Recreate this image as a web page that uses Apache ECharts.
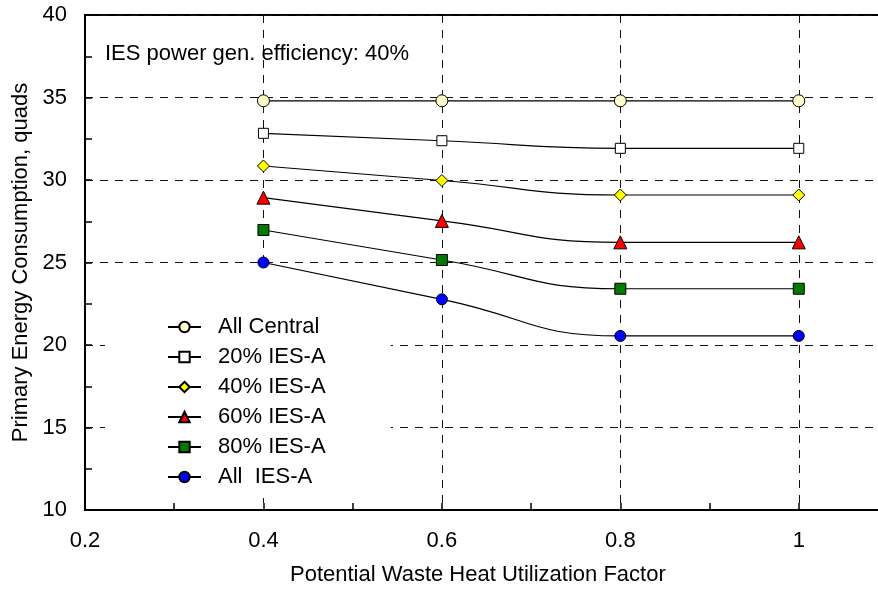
<!DOCTYPE html>
<html>
<head>
<meta charset="utf-8">
<script src="https://cdn.jsdelivr.net/npm/echarts@6/dist/echarts.min.js"></script>
<style>
  html, body { margin: 0; padding: 0; background: #fff; }
  #chart { width: 878px; height: 592px; }
</style>
</head>
<body>
<div id="chart"></div>
<script>
  // x positions (waste heat utilization factor)
  var factors = [0.4, 0.6, 0.8, 1.0];
  // primary energy consumption, quads
  var allCentral = [34.8, 34.8, 34.8, 34.8];
  var ies20 = [32.83, 32.38, 31.92, 31.92];
  var ies40 = [30.85, 29.97, 29.09, 29.09];
  var ies60 = [28.93, 27.52, 26.22, 26.22];
  var ies80 = [26.97, 25.15, 23.41, 23.41];
  var iesAll = [25.0, 22.77, 20.55, 20.55];

  var seriesNames = ['All Central', '20% IES-A', '40% IES-A', '60% IES-A', '80% IES-A', 'All  IES-A'];
  var seriesData = [allCentral, ies20, ies40, ies60, ies80, iesAll];
  var symbols = ['circle', 'rect', 'diamond', 'triangle', 'rect', 'circle'];
  var symbolSizes = [12, 10, 12, 13, 11, 11];
  var fills = ['#ffffcc', '#ffffff', '#ffff00', '#ff0000', '#007a00', '#0000ff'];

  var font = 'Liberation Sans, Arial, sans-serif';
  var chart = echarts.init(document.getElementById('chart'));

  function pairs(ys) {
    var out = [];
    for (var i = 0; i < factors.length; i++) out.push([factors[i], ys[i]]);
    return out;
  }

  var series = [];
  for (var i = 0; i < seriesNames.length; i++) {
    series.push({
      name: seriesNames[i],
      type: 'line',
      smooth: 0.5,
      data: pairs(seriesData[i]),
      symbol: symbols[i],
      symbolSize: symbolSizes[i],
      showAllSymbol: true,
      lineStyle: { color: '#000', width: 1.2 },
      itemStyle: { color: fills[i], borderColor: '#000', borderWidth: 1, opacity: 1 },
      emphasis: { disabled: true },
      z: 3
    });
  }

  var splitStyle = { show: true, lineStyle: { color: '#111', width: 1, type: [8, 7] } };

  var option = {
    animation: false,
    backgroundColor: '#fff',
    textStyle: { fontFamily: font },
    title: {
      text: 'IES power gen. efficiency: 40%',
      left: 100,
      top: 38,
      textStyle: { fontFamily: font, fontSize: 22, fontWeight: 'normal', color: '#000' }
    },
    grid: {
      left: 85, width: 803, top: 15, bottom: 82,
      outerBoundsMode: 'none',
      containLabel: false,
      show: true, borderColor: '#000', borderWidth: 2, backgroundColor: 'transparent'
    },
    legend: {
      orient: 'vertical',
      left: 105,
      top: 267,
      z: 1,
      padding: [49, 65, 10, 62],
      backgroundColor: '#fff',
      itemWidth: 33,
      itemHeight: 13,
      itemGap: 8,
      selectedMode: false,
      data: seriesNames,
      textStyle: { fontFamily: font, fontSize: 22, color: '#000', lineHeight: 22, padding: [0, 0, 0, 12] }
    },
    xAxis: {
      type: 'value',
      min: 0.2,
      max: 1.1,
      interval: 0.2,
      axisLine: { show: true, onZero: false, lineStyle: { color: '#000', width: 2 } },
      axisTick: { show: true, inside: true, length: 7, lineStyle: { color: '#000', width: 1.5 } },
      minorTick: { show: true, splitNumber: 2, length: 7, lineStyle: { color: '#000', width: 1.5 } },
      axisLabel: { color: '#000', fontSize: 22, fontFamily: font, margin: 20, showMaxLabel: false },
      splitLine: splitStyle
    },
    yAxis: {
      type: 'value',
      min: 10,
      max: 40,
      interval: 5,
      name: 'Primary Energy Consumption, quads',
      nameLocation: 'middle',
      nameGap: 51,
      nameTextStyle: { color: '#000', fontSize: 22, fontFamily: font },
      axisLine: { show: true, lineStyle: { color: '#000', width: 2 } },
      axisTick: { show: true, inside: true, length: 7, lineStyle: { color: '#000', width: 1.5 } },
      minorTick: { show: true, splitNumber: 2, length: 7, lineStyle: { color: '#000', width: 1.5 } },
      axisLabel: { color: '#000', fontSize: 22, fontFamily: font, margin: 18 },
      splitLine: splitStyle
    },
    graphic: [{
      type: 'text',
      left: 290,
      top: 564,
      style: {
        text: 'Potential Waste Heat Utilization Factor',
        fill: '#000',
        font: '22px ' + font
      }
    }],
    series: series
  };

  chart.setOption(option);
</script>
</body>
</html>
